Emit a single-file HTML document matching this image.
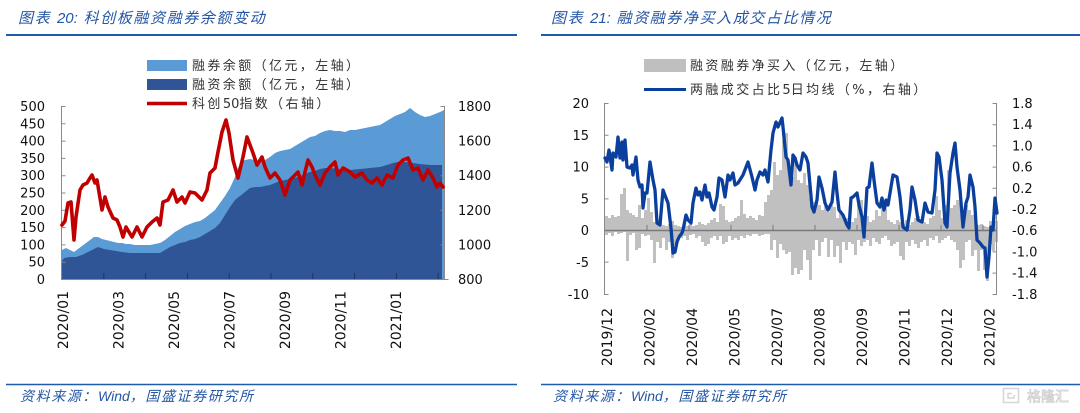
<!DOCTYPE html>
<html><head><meta charset="utf-8"><style>
html,body{margin:0;padding:0;background:#fff;}
svg{display:block;}
.t{font-family:"DejaVu Sans","Liberation Sans",sans-serif;font-size:13px;fill:#111;}
.x{font-family:"DejaVu Sans","Liberation Sans",sans-serif;font-size:14px;fill:#111;}
.lg{font-family:"DejaVu Sans","Noto Sans CJK SC",sans-serif;font-size:13px;fill:#333;letter-spacing:2.4px;}
.ti{font-family:"Liberation Sans","Noto Sans CJK SC",sans-serif;font-size:15px;font-style:italic;fill:#2456A4;letter-spacing:1.6px;}
.ft{font-family:"Liberation Sans","Noto Sans CJK SC",sans-serif;font-size:14px;font-style:italic;fill:#2456A4;letter-spacing:1.6px;}
.n{letter-spacing:0;}
</style></head><body>
<svg width="1080" height="413" viewBox="0 0 1080 413" xmlns="http://www.w3.org/2000/svg">
<rect width="1080" height="413" fill="#fff"/>
<!-- headers -->
<text class="ti" x="18" y="23">图表 <tspan class="n">20:</tspan>  科创板融资融券余额变动</text>
<text class="ti" x="551" y="23">图表 <tspan class="n">21:</tspan>  融资融券净买入成交占比情况</text>
<line x1="6" y1="35" x2="517" y2="35" stroke="#1F5BAA" stroke-width="2"/>
<line x1="541" y1="35" x2="1080" y2="35" stroke="#1F5BAA" stroke-width="2"/>
<!-- footers -->
<line x1="6" y1="384.5" x2="517" y2="384.5" stroke="#1F5BAA" stroke-width="1.5"/>
<line x1="541" y1="384.5" x2="1080" y2="384.5" stroke="#1F5BAA" stroke-width="1.5"/>
<text class="ft" x="20" y="401">资料来源：<tspan class="n">Wind</tspan>，国盛证券研究所</text>
<text class="ft" x="553" y="401">资料来源：<tspan class="n">Wind</tspan>，国盛证券研究所</text>
<!-- watermark -->
<rect x="1003.5" y="388.5" width="15" height="14" fill="none" stroke="#d6d6d6" stroke-width="1.5"/>
<path d="M1012 393.5H1008V398H1014V395" fill="none" stroke="#d6d6d6" stroke-width="1.5"/>
<text x="1027" y="401.5" font-family="Noto Sans CJK SC,sans-serif" font-size="14" fill="#fff" stroke="#d0d0d0" stroke-width="0.8">格隆汇</text>

<!-- ================= LEFT CHART ================= -->
<rect x="147" y="60" width="40" height="11" fill="#5B9BD5"/>
<text class="lg" x="192" y="70">融券余额（亿元，左轴）</text>
<rect x="147" y="79" width="40" height="11" fill="#2F5597"/>
<text class="lg" x="192" y="89">融资余额（亿元，左轴）</text>
<line x1="147" y1="103.5" x2="187" y2="103.5" stroke="#C00000" stroke-width="3.5"/>
<text class="lg" x="192" y="108">科创<tspan class="n">50</tspan>指数（右轴）</text>

<!-- areas -->
<path fill="#5B9BD5" d="M62,279 L62,250 66,248 70,250 74,252 78,249 82,246 86,243 90,240 94,237 98,237 102,239 106,240 110,241 114,242 118,243 122,243 126,244 130,244 135,245 140,245 145,245 150,245 155,244 160,243 165,240 170,236 175,232 180,229 185,226 190,224 195,222 200,221 205,218 210,214 215,210 220,203 225,196 230,188 235,177 238,168 241,162 245,160 250,159 255,160 260,161 265,160 270,157 275,153 280,151 285,150 290,149 295,146 300,143 305,140 310,137 315,136 320,133 325,131 330,130 335,131 340,131 345,132 350,130 355,130 360,129 365,128 370,127 375,126 380,125 385,122 390,119 395,116 400,114 405,112 410,108 415,112 420,115 425,117 430,116 435,114 440,112 444,110 L444,279 Z"/>
<path fill="#2F5597" d="M62,279 L62,261 64,258 70,257 76,257 82,255 88,252 94,249 98,247 104,249 110,250 116,251 122,252 130,253 140,253 150,253 160,253 165,250 170,247 175,245 180,243 185,242 190,240 195,239 200,237 205,234 210,231 215,228 220,223 225,215 230,207 235,200 240,196 245,192 250,188 255,187 260,187 265,186 270,185 275,183 280,181 285,180 290,179 295,178 300,176 305,174 310,172 315,171 320,169 325,168 330,168 340,169 350,170 360,169 370,168 380,167 390,164 397,162 405,162 413,163 420,164 430,165 442,165 L442,279 Z"/>

<!-- axes -->
<g stroke="#8a8a8a" stroke-width="1" fill="none">
<path d="M61.5,106V279.5H444.5V106"/>
<path d="M61.5,106.5h4M61.5,123.8h4M61.5,141.1h4M61.5,158.4h4M61.5,175.7h4M61.5,193h4M61.5,210.3h4M61.5,227.6h4M61.5,244.9h4M61.5,262.2h4"/>
<path d="M444.5,106.5h-4M444.5,141.1h-4M444.5,175.7h-4M444.5,210.3h-4M444.5,244.9h-4M444.5,279.5h4"/>
</g>
<g stroke="#1f3560" stroke-width="1">
<path d="M103.8,273V279M145.6,273V279M187.4,273V279M229.2,273V279M271,273V279M312.8,273V279M354.6,273V279M396.4,273V279M438.2,273V279"/>
</g>

<!-- red line -->
<polyline fill="none" stroke="#C00000" stroke-width="3.6" stroke-linejoin="round" stroke-linecap="round" points="62,225 65,221 68,203 71,202 74,240 76,217 80,190 83,185 87,183 90,178 92,175 95,183 97,180 102,210 105,197 108,207 113,218 117,220 120,227 123,237 126,227 132,237 137,227 142,237 147,227 152,222 157,218 160,225 163,202 168,200 173,190 177,202 182,197 185,203 190,192 195,193 202,200 207,190 210,173 215,168 218,152 222,132 226,120 229,133 233,160 238,178 243,157 247,137 250,145 253,153 257,165 262,157 265,167 270,178 275,173 280,180 285,195 290,180 295,175 298,172 302,185 305,172 308,160 312,167 315,175 320,185 325,173 330,167 335,162 338,175 343,168 350,172 355,177 362,173 367,180 372,183 377,178 382,185 387,175 393,178 398,165 403,160 408,158 413,170 418,168 423,180 428,170 433,178 437,187 440,183 443,187"/>

<!-- left y labels -->
<g class="t" text-anchor="end">
<text x="45" y="111">500</text><text x="45" y="128.3">450</text><text x="45" y="145.6">400</text><text x="45" y="162.9">350</text><text x="45" y="180.2">300</text><text x="45" y="197.5">250</text><text x="45" y="214.8">200</text><text x="45" y="232.1">150</text><text x="45" y="249.4">100</text><text x="45" y="266.7">50</text><text x="45" y="284">0</text>
</g>
<g class="t">
<text x="458" y="111">1800</text><text x="458" y="145.6">1600</text><text x="458" y="180.2">1400</text><text x="458" y="214.8">1200</text><text x="458" y="249.4">1000</text><text x="458" y="284">800</text>
</g>
<g class="x" text-anchor="end">
<text transform="translate(68,291) rotate(-90)">2020/01</text>
<text transform="translate(123.5,291) rotate(-90)">2020/03</text>
<text transform="translate(179,291) rotate(-90)">2020/05</text>
<text transform="translate(234.5,291) rotate(-90)">2020/07</text>
<text transform="translate(290,291) rotate(-90)">2020/09</text>
<text transform="translate(345.5,291) rotate(-90)">2020/11</text>
<text transform="translate(401,291) rotate(-90)">2021/01</text>
</g>

<!-- ================= RIGHT CHART ================= -->
<rect x="644" y="59" width="42" height="13" fill="#BFBFBF"/>
<text class="lg" x="690" y="70">融资融券净买入（亿元，左轴）</text>
<line x1="644" y1="89.5" x2="686" y2="89.5" stroke="#0B3F9E" stroke-width="3"/>
<text class="lg" x="690" y="94">两融成交占比<tspan class="n">5</tspan>日均线（%，右轴）</text>

<!-- bars -->
<path transform="translate(0.5,0)" fill="none" stroke="#C0C0C0" stroke-width="3" d="M606 216V235M609 218V233M612 215V236M615 217V232M618 216V234M621 194V233M624 188V232M627 210V261M630 213V235M633 215V233M636 217V250M639 205V248M642 218V234M645 210V236M648 198V235M651 212V240M654 222V263M657 224V242M660 222V248M663 225V238M666 226V250M669 224V242M672 221V258M675 225V245M678 226V236M681 227V238M684 225V236M687 226V240M690 224V235M693 226V234M696 225V238M699 222V236M702 224V242M705 225V246M708 223V244M711 220V238M714 218V236M717 222V240M720 204V236M723 206V244M726 220V242M729 222V236M732 221V240M735 218V238M738 216V240M741 200V236M744 214V238M747 218V235M750 216V236M753 218V234M756 220V234M759 215V236M762 216V235M765 202V234M768 195V234M771 190V250M774 162V240M777 175V258M780 170V244M783 140V250M786 133V254M789 170V252M792 177V275M795 157V268M798 180V274M801 183V270M804 173V250M807 185V260M810 197V280M813 202V250M816 200V240M819 205V256M822 210V242M825 206V238M828 212V257M831 205V240M834 207V257M837 218V246M840 213V263M843 216V242M846 218V250M849 220V242M852 222V244M855 218V255M858 205V240M861 200V246M864 220V242M867 216V240M870 222V246M873 220V238M876 210V242M879 216V244M882 203V238M885 205V236M888 220V240M891 222V246M894 224V244M897 220V242M900 222V256M903 224V260M906 220V242M909 225V246M912 222V240M915 218V244M918 216V248M921 220V242M924 222V240M927 224V246M930 218V238M933 216V240M936 196V236M939 210V243M942 218V240M945 205V238M948 170V236M951 208V240M954 205V242M957 200V250M960 203V268M963 210V260M966 205V242M969 210V240M972 215V256M975 220V250M978 225V271M981 224V250M984 226V270M987 227V281M990 221V244M993 220V251M996 221V242"/>

<!-- axes -->
<g stroke="#8a8a8a" stroke-width="1" fill="none">
<path d="M608.5,103.5H604.5V294.5H608.5"/>
<path d="M604.5,135.3h4M604.5,167.1h4M604.5,198.9h4M604.5,262.1h4"/>
<path d="M992.5,103.5H996.5V294.5H992.5"/>
<path d="M996.5,124.7h-4M996.5,145.9h-4M996.5,167.1h-4M996.5,188.3h-4M996.5,209.5h-4M996.5,230.7h-4M996.5,251.9h-4M996.5,273.1h-4"/>
</g>
<line x1="605" y1="230.5" x2="997" y2="230.5" stroke="#7a7a7a" stroke-width="1.5"/>
<path stroke="#7a7a7a" stroke-width="1" d="M647,225V230M689,225V230M731,225V230M773,225V230M815,225V230M857,225V230M899,225V230M941,225V230M983,225V230"/>

<!-- blue line -->
<polyline fill="none" stroke="#0B3F9E" stroke-width="3.3" stroke-linejoin="round" stroke-linecap="round" points="605,158 607,162 609,150 612,170 613,153 616,157 618,137 620,158 622,142 623,160 625,140 627,167 630,168 632,165 633,175 636,157 638,180 640,187 642,185 643,208 645,193 647,193 650,162 653,180 655,190 657,223 660,225 663,190 666,198 668,203 671,228 673,253 675,252 677,242 679,237 682,233 683,230 686,215 688,220 691,223 693,203 696,188 698,195 700,192 702,200 705,185 707,197 709,193 712,207 714,210 717,197 719,178 722,180 725,197 728,175 730,180 733,173 735,185 738,183 743,175 748,162 752,177 755,190 757,180 760,172 763,175 765,170 768,182 771,150 773,133 776,122 778,127 782,118 783,127 786,157 788,160 791,185 793,155 795,158 797,165 800,170 803,153 806,157 808,163 812,207 814,212 817,200 819,177 822,188 825,203 828,210 832,202 835,172 837,193 839,210 843,215 847,225 849,228 851,198 853,197 857,193 859,205 862,217 864,237 867,188 869,187 872,163 874,180 877,203 880,207 882,198 884,210 886,200 888,205 891,187 893,175 897,177 900,197 903,227 907,230 910,210 912,187 915,200 918,220 922,222 925,203 928,212 932,213 935,190 937,153 939,157 942,180 945,223 947,227 950,173 953,153 955,143 957,167 960,190 963,227 966,203 968,197 970,175 973,187 975,207 977,240 980,243 983,247 985,248 987,277 989,257 991,227 993,230 995,198 997,213"/>

<!-- right chart labels -->
<g class="t" text-anchor="end">
<text x="589" y="108">20</text><text x="589" y="139.8">15</text><text x="589" y="171.6">10</text><text x="589" y="203.4">5</text><text x="589" y="235.2">0</text><text x="589" y="267">-5</text><text x="589" y="298.8">-10</text>
</g>
<g class="t">
<text x="1012" y="108">1.8</text><text x="1012" y="129.2">1.4</text><text x="1012" y="150.4">1.0</text><text x="1012" y="171.6">0.6</text><text x="1012" y="192.8">0.2</text><text x="1012" y="214">-0.2</text><text x="1012" y="235.2">-0.6</text><text x="1012" y="256.4">-1.0</text><text x="1012" y="277.6">-1.4</text><text x="1012" y="298.8">-1.8</text>
</g>
<g class="x" text-anchor="end">
<text transform="translate(612,308) rotate(-90)">2019/12</text>
<text transform="translate(654.5,308) rotate(-90)">2020/02</text>
<text transform="translate(697,308) rotate(-90)">2020/04</text>
<text transform="translate(739.5,308) rotate(-90)">2020/05</text>
<text transform="translate(782,308) rotate(-90)">2020/07</text>
<text transform="translate(824.5,308) rotate(-90)">2020/08</text>
<text transform="translate(867,308) rotate(-90)">2020/09</text>
<text transform="translate(909.5,308) rotate(-90)">2020/11</text>
<text transform="translate(952,308) rotate(-90)">2020/12</text>
<text transform="translate(994.5,308) rotate(-90)">2021/02</text>
</g>
</svg>
</body></html>
